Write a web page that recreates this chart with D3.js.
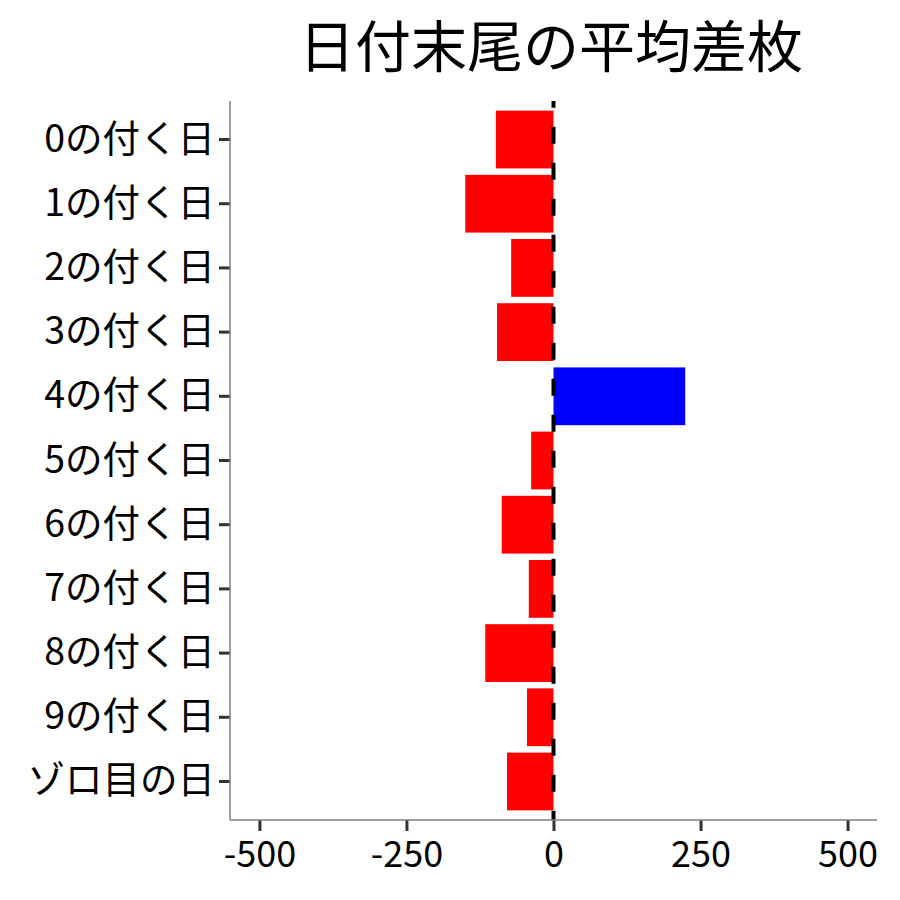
<!DOCTYPE html>
<html><head><meta charset="utf-8">
<script src="https://cdn.jsdelivr.net/npm/d3@7"></script>
<style>body{margin:0;background:#fff}svg{display:block}</style>
</head><body>
<svg id="c" width="900" height="900"></svg>
<script>
const title = "日付末尾の平均差枚";
const categories = ["0の付く日","1の付く日","2の付く日","3の付く日","4の付く日","5の付く日","6の付く日","7の付く日","8の付く日","9の付く日","ゾロ目の日"];
const values = [-98, -150, -72, -96, 224, -38, -88, -42, -116, -45, -79];
const xTicks = [-500, -250, 0, 250, 500];
const xDomain = [-550, 550];

(function(){
const font = "'Noto Sans CJK JP','Noto Sans',sans-serif";
const svg = d3.select("#c");
const pL = 230, pR = 877, pT = 101, pB = 820;

const x = d3.scaleLinear().domain(xDomain).range([pL, pR]);
const step = (pB - pT) / (categories.length - 1 + 1.2);
const y = d3.scaleBand().domain(categories)
  .range([pT + 0.6*step - step/2, pB - 0.6*step + step/2])
  .paddingInner(0.1).paddingOuter(0.05);

const data = categories.map((c,i)=>({c, v: values[i]}));

svg.append("g").selectAll("rect").data(data).join("rect")
  .attr("x", d => x(Math.min(0, d.v)))
  .attr("width", d => Math.abs(x(d.v) - x(0)))
  .attr("y", d => y(d.c))
  .attr("height", y.bandwidth())
  .attr("fill", d => d.v >= 0 ? "#0000FF" : "#FF0000");

svg.append("line")
  .attr("x1", x(0)).attr("x2", x(0)).attr("y1", pT).attr("y2", pB)
  .attr("stroke", "#000").attr("stroke-width", 4)
  .attr("stroke-dasharray", "17,19").attr("stroke-dashoffset", 10.3);

const xAxis = d3.axisBottom(x).tickValues(xTicks).tickSize(11).tickPadding(10)
  .tickFormat(d => String(d));
const gx = svg.append("g").attr("transform", `translate(0,${pB})`).call(xAxis);
gx.select(".domain").remove();
gx.append("line").attr("x1", pL).attr("x2", pR).attr("y1", 0).attr("y2", 0)
  .attr("stroke", "#7f7f7f").attr("stroke-width", 1.5);
gx.selectAll(".tick line").attr("stroke", "#333").attr("stroke-width", 3);
gx.selectAll(".tick text").attr("fill", "#000").style("font-family", font).style("font-size", "36px");

const yAxis = d3.axisLeft(y).tickSize(11).tickPadding(4);
const gy = svg.append("g").attr("transform", `translate(${pL},0)`).call(yAxis);
gy.select(".domain").remove();
gy.append("line").attr("x1", 0).attr("x2", 0).attr("y1", pT).attr("y2", pB)
  .attr("stroke", "#7f7f7f").attr("stroke-width", 1.5);
gy.selectAll(".tick line").attr("stroke", "#333").attr("stroke-width", 3);
gy.selectAll(".tick text").attr("fill", "#000").style("font-family", font).style("font-size", "37.5px");

svg.append("text").attr("x", 551).attr("y", 67)
  .attr("text-anchor", "middle").style("font-family", font).style("font-size", "56px")
  .attr("fill", "#000").text(title);
})();
</script>
</body></html>
